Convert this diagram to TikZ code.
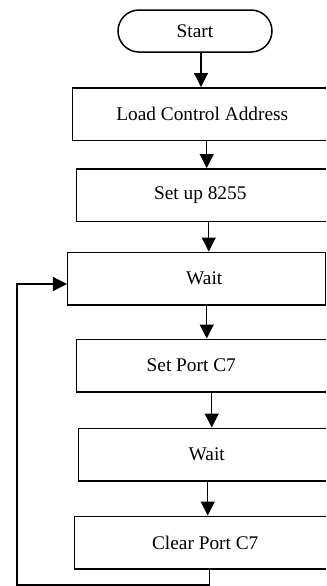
\documentclass[tikz,border=0pt]{standalone}
\usepackage{fontspec}
\setmainfont{Liberation Serif}
\usetikzlibrary{arrows.meta}

\begin{document}
\begin{tikzpicture}[x=0.2mm,y=-0.2mm,font=\fontsize{11}{13}\selectfont,
box/.style={draw,line width=0.85pt,minimum height=10.5mm,anchor=west,inner sep=0pt},
term/.style={draw,line width=0.85pt,rounded corners=4.2mm,minimum width=30.8mm,minimum height=8.4mm},
arr/.style={line width=0.7pt,-{Triangle[width=2.8mm,length=2.8mm]}}]
\useasboundingbox (0,0) rectangle (326,586);
\clip (0,0) rectangle (326,586);
\node[term] (start) at (195,31) {Start};
\node[box,minimum width=51.8mm,label={center:Load Control Address}] (load) at (72,114) {};
\node[box,minimum width=52.8mm,label={[xshift=-1.7mm]center:Set up 8255}] (setup) at (76,195) {};
\node[box,minimum width=51.6mm,label={[xshift=1.5mm]center:Wait}] (wait1) at (67,278.5) {};
\node[box,minimum width=52.8mm,label={[xshift=-3.5mm]center:Set Port C7}] (setc) at (76,365.5) {};
\node[box,minimum width=52.4mm,label={[xshift=-0.6mm]center:Wait}] (wait2) at (78,454.5) {};
\node[box,minimum width=53.2mm,label={[xshift=-0.5mm]center:Clear Port C7}] (clr) at (74,542.5) {};
\foreach \a/\b/\s in {start/load/1.2,load/setup/0.9,setup/wait1/0,wait1/setc/2,setc/wait2/0.6,wait2/clr/-0.4}{
\draw[arr]([xshift=\s mm]\a.south)--([xshift=\s mm]\a.south |- \b.north);}
% loop back
\coordinate (fb) at (17,585);
\draw[arr]([xshift=0.4mm]clr.south) |- (fb) |- ([yshift=-1.1mm]wait1.west);
\end{tikzpicture}
\end{document}
